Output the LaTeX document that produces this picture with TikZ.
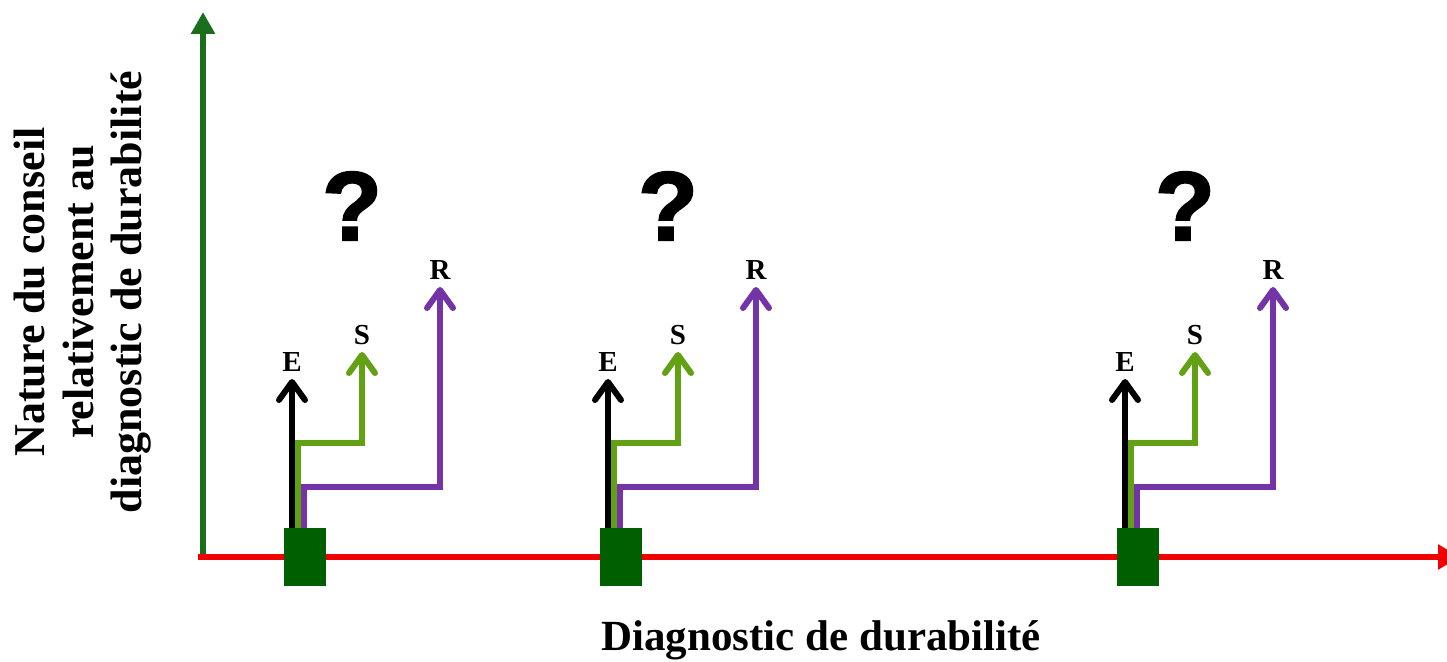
\documentclass[tikz,border=0pt]{standalone}
\usepackage{fontspec}
\setmainfont{Liberation Serif}
\newfontfamily\ylabfont{Liberation Serif}
\newfontfamily\qfont[BoldFeatures={FakeBold=2}]{Liberation Sans}
\usetikzlibrary{arrows.meta}
\definecolor{axgreen}{HTML}{1B6E1B}
\definecolor{sqgreen}{HTML}{006000}
\definecolor{axred}{HTML}{F00000}
\definecolor{sgreen}{HTML}{62A014}
\definecolor{rpurple}{HTML}{7434A8}
\begin{document}
\begin{tikzpicture}[x=1pt,y=1pt,
  axisline/.style={line width=6.5pt},
  branch/.style={line width=6pt, -{Straight Barb[length=18pt,width=26pt,line cap=round,line join=round]}},
  lab/.style={font=\bfseries\fontsize{29}{29}\selectfont, inner sep=0pt, outer sep=7pt, anchor=south},
  qmark/.style={font=\qfont\bfseries\fontsize{98}{98}\selectfont, inner sep=0pt},
  box/.style={fill=sqgreen, minimum width=42pt, minimum height=57pt, inner sep=0pt}]
\useasboundingbox (0,0) rectangle (1447,661);
\coordinate (O) at (203,104);
\coordinate (Ol) at (198,104);
\coordinate (ytip) at (203,649);
\coordinate (xtip) at (1460,104);
\draw[axisline, axgreen, -{Triangle[length=22pt,width=23pt]}] (O) -- (ytip);
\draw[axisline, axred, -{Triangle[length=22pt,width=24pt]}] (Ol) -- (xtip);
\foreach \i/\x in {1/305,2/621,3/1138}{
  \node[box] (sq\i) at (\x,104) {};
  \node[lab] (E\i) at (\x-13,282) {E};
  \node[lab] (S\i) at (\x+57,309) {S};
  \node[lab] (R\i) at (\x+135,374) {R};
  \node[qmark] (Q\i) at (\x+47,455) {?};
  \draw[branch, black] ([xshift=-13pt]sq\i.north) -- (E\i.south);
  \draw[branch, sgreen] ([xshift=-7pt]sq\i.north) -- ++(0,85) -| (S\i.south);
  \draw[branch, rpurple] ([xshift=-1pt]sq\i.north) -- ++(0,41) -| (R\i.south);
}
\node[rotate=90, align=center, font=\ylabfont\bfseries\fontsize{44}{48.5}\selectfont, inner sep=0pt] (ylab) at (83,369) {Nature du conseil\\relativement au\\diagnostic de durabilité};
\node[font=\bfseries\fontsize{43}{43}\selectfont, anchor=base, inner sep=0pt] (xlab) at (821,11) {Diagnostic de durabilité};
\end{tikzpicture}
\end{document}
